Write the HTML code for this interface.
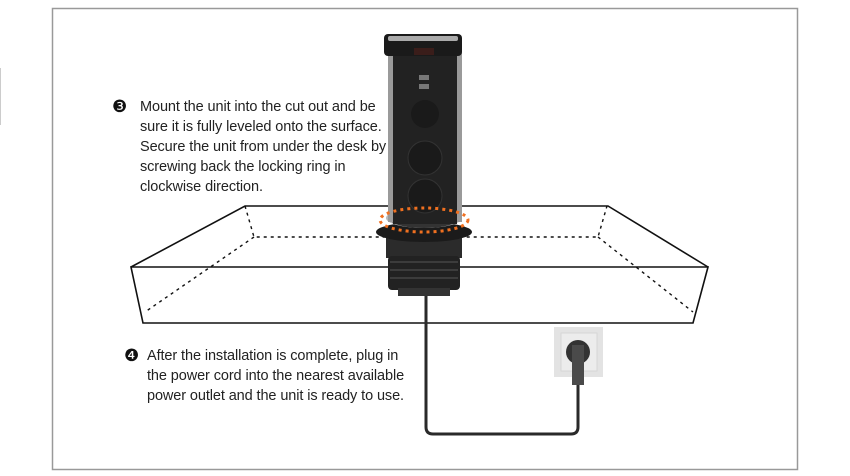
<!DOCTYPE html>
<html><head><meta charset="utf-8"><style>
html,body{margin:0;padding:0;background:#fff;}
body{width:850px;height:476px;position:relative;overflow:hidden;font-family:"Liberation Sans",sans-serif;}
.t{position:absolute;font-size:14.5px;line-height:20px;color:#222;letter-spacing:-0.1px;}
.b{position:absolute;font-size:17px;line-height:20px;color:#111;}
</style></head><body>
<svg width="850" height="476" style="position:absolute;left:0;top:0">
<rect x="52.5" y="8.5" width="745" height="461" fill="none" stroke="#999" stroke-width="1.5"/>
<line x1="0.5" y1="68" x2="0.5" y2="125" stroke="#ccc"/>
<g fill="none" stroke="#111" stroke-width="1.6">
<polyline points="131,267 245,206 608,206 708,267"/>
<polygon points="131,267 708,267 693,323 143,323"/>
</g>
<g fill="none" stroke="#111" stroke-width="1.4" stroke-dasharray="3,4">
<polyline points="245,206 254,237 598,237 607,206"/>
<line x1="254" y1="237" x2="145" y2="312"/>
<line x1="598" y1="237" x2="693" y2="312"/>
</g>
<path d="M426,292 V427 Q426,434 433,434 H571 Q578,434 578,427 V380" fill="none" stroke="#2a2a2a" stroke-width="3"/>
<rect x="554" y="327" width="49" height="50" fill="#e3e3e3"/>
<rect x="561" y="333" width="36" height="38" fill="#ececec" stroke="#d6d6d6"/>
<circle cx="578" cy="352" r="12" fill="#333"/>
<rect x="572" y="345" width="12" height="40" fill="#4a4a4a"/>
<rect x="386" y="238" width="76" height="20" fill="#2b2b2b"/>
<rect x="388" y="256" width="72" height="34" rx="4" fill="#222"/>
<g stroke="#555" stroke-width="1"><line x1="390" y1="262" x2="458" y2="262"/><line x1="390" y1="270" x2="458" y2="270"/><line x1="390" y1="278" x2="458" y2="278"/></g>
<rect x="398" y="288" width="52" height="8" fill="#333"/>
<ellipse cx="424" cy="232" rx="48" ry="10" fill="#1b1b1b"/>
<ellipse cx="424" cy="218" rx="38" ry="10" fill="#b8b8b8"/>
<ellipse cx="424" cy="220" rx="33" ry="8" fill="#333"/>
<rect x="388" y="46" width="74" height="176" fill="#9a9a9a"/>
<rect x="393" y="46" width="64" height="178" fill="#222"/>
<rect x="384" y="34" width="78" height="22" rx="4" fill="#1a1a1a"/>
<rect x="388" y="36" width="70" height="5" rx="2" fill="#aaa"/>
<rect x="414" y="48" width="20" height="7" fill="#3a1d1a"/>
<rect x="419" y="75" width="10" height="5" fill="#777"/><rect x="419" y="84" width="10" height="5" fill="#777"/>
<circle cx="425" cy="114" r="14" fill="#1a1a1a"/>
<circle cx="425" cy="158" r="17" fill="#1a1a1a" stroke="#333"/>
<circle cx="425" cy="196" r="17" fill="#1a1a1a" stroke="#333"/>
<ellipse cx="424" cy="220" rx="44" ry="12" fill="none" stroke="#f07020" stroke-width="3" stroke-dasharray="3,4"/>
</svg>
<div class="b" style="left:112px;top:97px">❸</div>
<div class="t" style="left:140px;top:97px">Mount the unit into the cut out and be<br>sure it is fully leveled onto the surface.<br>Secure the unit from under the desk by<br>screwing back the locking ring in<br>clockwise direction.</div>
<div class="b" style="left:124px;top:346px">❹</div>
<div class="t" style="left:147px;top:346px">After the installation is complete, plug in<br>the power cord into the nearest available<br>power outlet and the unit is ready to use.</div>
</body></html>
